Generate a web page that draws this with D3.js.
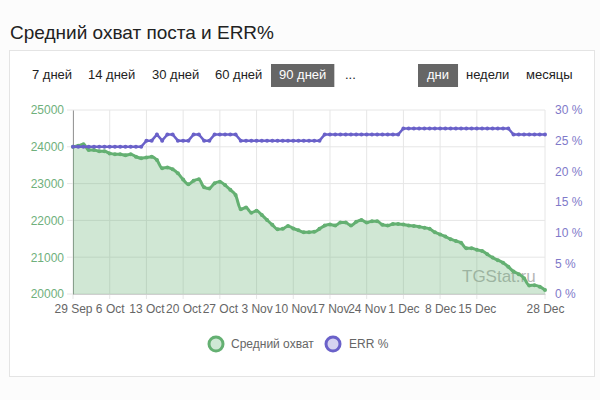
<!DOCTYPE html>
<html>
<head>
<meta charset="utf-8">
<script src="https://cdn.jsdelivr.net/npm/d3@7"></script>
<style>
  body { margin: 0; background: #fcfcfc; font-family: "Liberation Sans", Arial, sans-serif; }
</style>
</head>
<body>
<div id="chart"></div>
<script>
// data (one value per day, 29 Sep .. 28 Dec)
var startDay = new Date(2019, 8, 29)
var endDay = new Date(2019, 11, 29)
var reach = [
  24000, 24030, 24070, 23910, 23910, 23880, 23880, 23820, 23800, 23800,
  23770, 23800, 23730, 23690, 23710, 23730, 23640, 23420, 23440, 23390,
  23280, 23110, 22980, 23080, 23120, 22900, 22870, 23010, 23050, 22960,
  22830, 22690, 22300, 22350, 22210, 22260, 22150, 22010, 21880, 21760,
  21770, 21850, 21780, 21730, 21680, 21680, 21690, 21770, 21860, 21890,
  21860, 21940, 21940, 21860, 21960, 22010, 21940, 21980, 21980, 21880,
  21860, 21900, 21900, 21890, 21860, 21850, 21830, 21800, 21770, 21680,
  21620, 21560, 21490, 21440, 21390, 21240, 21240, 21200, 21170, 21080,
  20990, 20920, 20850, 20740, 20610, 20540, 20430, 20230, 20240, 20200,
  20110
]
var err = [
  24, 24, 24, 24, 24, 24, 24, 24, 24, 24,
  24, 24, 24, 24, 25, 25, 26, 25, 26, 26,
  25, 25, 25, 26, 26, 25, 25, 26, 26, 26,
  26, 26, 25, 25, 25, 25, 25, 25, 25, 25,
  25, 25, 25, 25, 25, 25, 25, 25, 26, 26,
  26, 26, 26, 26, 26, 26, 26, 26, 26, 26,
  26, 26, 26, 27, 27, 27, 27, 27, 27, 27,
  27, 27, 27, 27, 27, 27, 27, 27, 27, 27,
  27, 27, 27, 27, 26, 26, 26, 26, 26, 26,
  26
]
var xTickDates = ["2019-09-29", "2019-10-06", "2019-10-13", "2019-10-20", "2019-10-27",
  "2019-11-03", "2019-11-10", "2019-11-17", "2019-11-24", "2019-12-01",
  "2019-12-08", "2019-12-15", "2019-12-28"]
var leftTicks = [20000, 21000, 22000, 23000, 24000, 25000]
var rightTicks = [0, 5, 10, 15, 20, 25, 30]
var periodButtons = ["7 дней", "14 дней", "30 дней", "60 дней", "90 дней", "..."]
var stepButtons = ["дни", "недели", "месяцы"]
var seriesNames = ["Средний охват", "ERR %"]

var days = d3.timeDay.range(startDay, endDay)
var parseDay = d3.timeParse("%Y-%m-%d")
var tickDays = xTickDates.map(parseDay)

var green = "#64b072", purple = "#6a61c9"

// set the dimensions and margins of the graph
var margin = {top: 110, right: 55, bottom: 106, left: 73},
    width = 600 - margin.left - margin.right,
    height = 400 - margin.top - margin.bottom;

var root = d3.select("#chart")
  .append("svg")
    .attr("width", 600)
    .attr("height", 400)
    .style("font-family", "'Liberation Sans', Arial, sans-serif")

// title and card
root.append("text").attr("x", 10).attr("y", 39).text("Средний охват поста и ERR%")
  .style("font-size", "19px").attr("fill", "#222")
root.append("rect").attr("x", 9.5).attr("y", 50.5).attr("width", 585).attr("height", 326)
  .attr("fill", "#fff").attr("stroke", "#e4e4e4")

// period / step buttons
var btnX = [32, 88, 152, 215, 279, 345]
periodButtons.forEach(function(t, i) {
  var g = root.append("g")
  var txt = g.append("text").attr("x", btnX[i]).attr("y", 79).text(t)
    .style("font-size", "13px").attr("fill", "#222")
  if (i == 4) {
    var w = txt.node().getComputedTextLength()
    g.insert("rect", "text").attr("x", btnX[i] - 8).attr("y", 64).attr("width", w + 16).attr("height", 23).attr("fill", "#666")
    txt.attr("fill", "#fff")
  }
})
var stepX = [427, 466, 526]
stepButtons.forEach(function(t, i) {
  var g = root.append("g")
  var txt = g.append("text").attr("x", stepX[i]).attr("y", 79).text(t)
    .style("font-size", "13px").attr("fill", "#222")
  if (i == 0) {
    var w = txt.node().getComputedTextLength()
    g.insert("rect", "text").attr("x", stepX[i] - 9).attr("y", 64).attr("width", w + 18).attr("height", 23).attr("fill", "#666")
    txt.attr("fill", "#fff")
  }
})

var svg = root.append("g")
  .attr("transform", "translate(" + margin.left + "," + margin.top + ")");

// scales
var x = d3.scaleTime().domain([startDay, days[days.length - 1]]).range([0, width])
var y = d3.scaleLinear().domain([20000, 25000]).range([height, 0])
var y2 = d3.scaleLinear().domain([0, 30]).range([height, 0])

// grid
svg.append("g").selectAll("line").data(leftTicks).enter().append("line")
  .attr("x1", -6).attr("x2", width).attr("y1", function(d){ return y(d) }).attr("y2", function(d){ return y(d) })
  .attr("stroke", "#e6e6e6")
svg.append("g").selectAll("line").data(tickDays).enter().append("line")
  .attr("x1", function(d){ return x(d) }).attr("x2", function(d){ return x(d) })
  .attr("y1", 0).attr("y2", height + 5)
  .attr("stroke", "#e6e6e6")

// axes
var xAxis = svg.append("g")
  .attr("transform", "translate(0," + height + ")")
  .call(d3.axisBottom(x).tickValues(tickDays).tickFormat(d3.timeFormat("%-d %b")).tickSize(0).tickPadding(10))
xAxis.select(".domain").attr("stroke", "#cfcfcf")
xAxis.selectAll("text").attr("fill", "#666").style("font-size", "12px")

var yAxis = svg.append("g")
  .call(d3.axisLeft(y).tickValues(leftTicks).tickFormat(d3.format("d")).tickSize(0).tickPadding(9))
yAxis.select(".domain").attr("stroke", "#999")
yAxis.selectAll("text").attr("fill", "#6fb07c").style("font-size", "12px")

var yAxis2 = svg.append("g")
  .attr("transform", "translate(" + width + ",0)")
  .call(d3.axisRight(y2).tickValues(rightTicks).tickFormat(function(d){ return d + " %" }).tickSize(0).tickPadding(10))
yAxis2.select(".domain").remove()
yAxis2.selectAll("text").attr("fill", "#8079c9").style("font-size", "12px")

// watermark
svg.append("text").attr("x", 389).attr("y", 172).text("TGStat.ru")
  .style("font-size", "17px").attr("fill", "#999").attr("opacity", 0.7)

// area + line for reach
var area = d3.area()
  .x(function(d, i){ return x(days[i]) })
  .y0(height)
  .y1(function(d){ return y(d) })
  .curve(d3.curveMonotoneX)
svg.append("path").datum(reach).attr("d", area).attr("fill", green).attr("fill-opacity", 0.3)

var line1 = d3.line()
  .x(function(d, i){ return x(days[i]) })
  .y(function(d){ return y(d) })
  .curve(d3.curveMonotoneX)
svg.append("path").datum(reach).attr("d", line1).attr("fill", "none").attr("stroke", green).attr("stroke-width", 3)
svg.append("g").selectAll("circle").data(reach).enter().append("circle")
  .attr("cx", function(d, i){ return x(days[i]) }).attr("cy", function(d){ return y(d) })
  .attr("r", 2).attr("fill", green)

var line2 = d3.line()
  .x(function(d, i){ return x(days[i]) })
  .y(function(d){ return y2(d) })
svg.append("path").datum(err).attr("d", line2).attr("fill", "none").attr("stroke", purple).attr("stroke-width", 2.5)
svg.append("g").selectAll("circle").data(err).enter().append("circle")
  .attr("cx", function(d, i){ return x(days[i]) }).attr("cy", function(d){ return y2(d) })
  .attr("r", 2).attr("fill", purple)

// legend
root.append("circle").attr("cx", 216).attr("cy", 344).attr("r", 7).attr("fill", "#cfe8d5").attr("stroke", green).attr("stroke-width", 3)
root.append("text").attr("x", 231).attr("y", 348).text(seriesNames[0]).style("font-size", "12px").attr("fill", "#666")
root.append("circle").attr("cx", 333).attr("cy", 344).attr("r", 7).attr("fill", "#d6d3f1").attr("stroke", purple).attr("stroke-width", 3)
root.append("text").attr("x", 349).attr("y", 348).text(seriesNames[1]).style("font-size", "12px").attr("fill", "#666")
</script>
</body>
</html>
